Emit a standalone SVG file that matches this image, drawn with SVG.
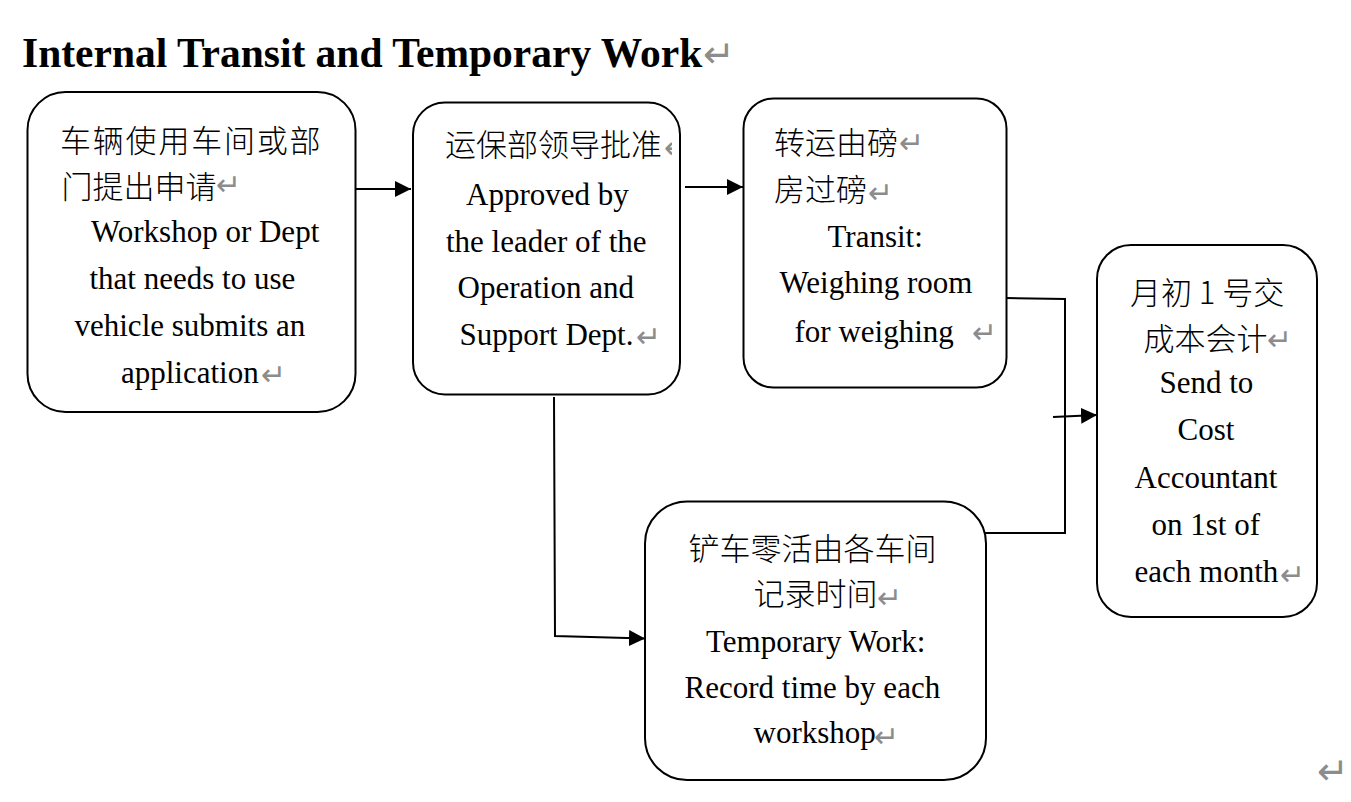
<svg xmlns="http://www.w3.org/2000/svg" width="1351" height="802" viewBox="0 0 1351 802">
<style>
.box{fill:#fff;stroke:#000;stroke-width:2}
.en{font-family:"Liberation Serif","Times New Roman",serif;font-size:31px;fill:#000}
.cn{font-family:"Noto Sans CJK SC","Noto Sans CJK JP",sans-serif;font-size:31px;font-weight:300;fill:#000}
.pm{font-family:"DejaVu Sans",sans-serif;font-size:30px;fill:#8c8c8c}
.pmL{font-family:"DejaVu Sans",sans-serif;font-size:38px;fill:#8c8c8c}
.title{font-family:"Liberation Serif","Times New Roman",serif;font-size:41.5px;font-weight:bold;fill:#000}
.con{fill:none;stroke:#000;stroke-width:2}
</style>
<defs>
<marker id="ah" markerUnits="userSpaceOnUse" markerWidth="16" markerHeight="16" refX="16" refY="8" orient="auto">
<path d="M0,0 L16,8 L0,16 z" fill="#000"/>
</marker>
<clipPath id="clip2"><rect x="600" y="120" width="72" height="50"/></clipPath>
</defs>
<rect width="1351" height="802" fill="#fff"/>
<g id="title">
<text class="title" x="22" y="67">Internal Transit and Temporary Work</text>
<text class="pmL" x="703" y="67">↵</text>
</g>
<g id="connectors">
<line class="con" x1="348" y1="189" x2="411" y2="189" marker-end="url(#ah)"/>
<line class="con" x1="685" y1="187" x2="743" y2="187" marker-end="url(#ah)"/>
<path class="con" d="M554,397 L555,636 L645,638.5" marker-end="url(#ah)"/>
<path class="con" d="M1006,298 L1065,299 L1065,533 L985,533"/>
<line class="con" x1="1053" y1="417" x2="1097" y2="415" marker-end="url(#ah)"/>
</g>
<g id="node1">
<rect class="box" x="27.5" y="92" width="328" height="320" rx="38"/>
<text class="cn" x="60" y="152" letter-spacing="1.8">车辆使用车间或部</text>
<text class="cn" x="61.5" y="198">门提出申请</text>
<text class="pm" x="216" y="194.5">↵</text>
<text class="en" x="91" y="242">Workshop or Dept</text>
<text class="en" x="89.5" y="289">that needs to use</text>
<text class="en" x="74.5" y="336">vehicle submits an</text>
<text class="en" x="121" y="383">application</text>
<text class="pm" x="261" y="384.5">↵</text>
</g>
<g id="node2">
<rect class="box" x="413" y="102.5" width="267" height="292" rx="32"/>
<text class="cn" x="445" y="156">运保部领导批准</text>
<text class="pm" x="664" y="157.5" clip-path="url(#clip2)">↵</text>
<text class="en" x="466" y="205">Approved by</text>
<text class="en" x="446" y="252">the leader of the</text>
<text class="en" x="457.5" y="298">Operation and</text>
<text class="en" x="459.5" y="345">Support Dept.</text>
<text class="pm" x="636" y="346.5">↵</text>
</g>
<g id="node3">
<rect class="box" x="743.5" y="98.5" width="263" height="289" rx="30"/>
<text class="cn" x="774" y="154">转运由磅</text>
<text class="pm" x="899" y="152.5">↵</text>
<text class="cn" x="774" y="201">房过磅</text>
<text class="pm" x="868" y="202.5">↵</text>
<text class="en" x="827.5" y="247">Transit:</text>
<text class="en" x="779.5" y="293">Weighing room</text>
<text class="en" x="794.5" y="341.5">for weighing</text>
<text class="pm" x="972" y="342.5">↵</text>
</g>
<g id="node4">
<rect class="box" x="1097" y="245" width="220" height="372" rx="34"/>
<text class="cn" x="1130" y="304">月初 1 号交</text>
<text class="cn" x="1143.5" y="350">成本会计</text>
<text class="pm" x="1267" y="349.5">↵</text>
<text class="en" x="1159.5" y="393">Send to</text>
<text class="en" x="1177.5" y="440">Cost</text>
<text class="en" x="1134.5" y="488">Accountant</text>
<text class="en" x="1151.5" y="535">on 1st of</text>
<text class="en" x="1134.5" y="582">each month</text>
<text class="pm" x="1280" y="584.5">↵</text>
</g>
<g id="node5">
<rect class="box" x="645" y="501.5" width="341" height="278.5" rx="42"/>
<text class="cn" x="688.5" y="560">铲车零活由各车间</text>
<text class="cn" x="753.5" y="605">记录时间</text>
<text class="pm" x="877" y="607.5">↵</text>
<text class="en" x="706" y="652">Temporary Work:</text>
<text class="en" x="684.5" y="698">Record time by each</text>
<text class="en" x="753.5" y="743">workshop</text>
<text class="pm" x="874" y="746.5">↵</text>
</g>
<text class="pmL" x="1317" y="784">↵</text>
</svg>
